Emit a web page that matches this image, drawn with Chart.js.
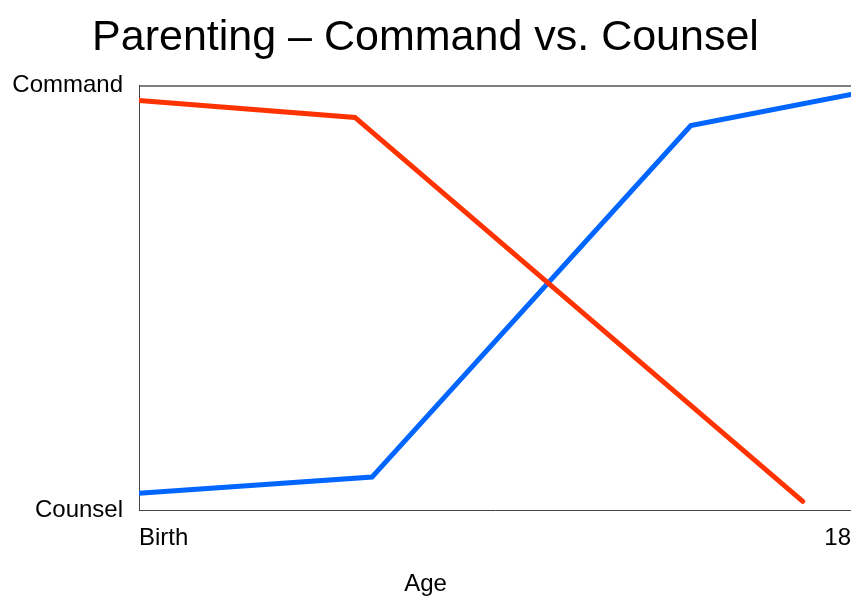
<!DOCTYPE html>
<html>
<head>
<meta charset="utf-8">
<script src="https://cdn.jsdelivr.net/npm/chart.js@4/dist/chart.umd.min.js"></script>
<style>
  html, body { margin: 0; padding: 0; background: #ffffff; overflow: hidden; }
  #wrap { width: 851px; height: 600px; }
</style>
</head>
<body>
<div id="wrap"><canvas id="parentChart"></canvas></div>
<script>
// =====================================
// DATA (age in years, level 0 = Counsel, 100 = Command)
// =====================================

const commandAges = [0, 5.46, 16.78];
const commandLevels = [96.5, 92.5, 2.1];

const counselAges = [0, 5.89, 13.95, 18];
const counselLevels = [4.0, 7.8, 90.6, 97.9];

const xTickValues = [0, 18];
const xTickLabels = ["Birth", "18"];

const yTickValues = [0, 100];
const yTickLabels = ["Counsel", "Command"];

const FONT = "'Liberation Sans', Arial, Helvetica, sans-serif";

function toPoints(xs, ys) {
    return xs.map((x, i) => ({ x: x, y: ys[i] }));
}

// =====================================
// CHART
// =====================================

const ctx = document.getElementById("parentChart").getContext("2d");

new Chart(ctx, {

    type: "line",

    data: {
        datasets: [
            {
                label: "Command",
                data: toPoints(commandAges, commandLevels),
                borderColor: "#FF3300",
                borderWidth: 5,
                borderCapStyle: "round",
                borderJoinStyle: "miter",
                pointRadius: 0,
                tension: 0,
                fill: false
            },
            {
                label: "Counsel",
                data: toPoints(counselAges, counselLevels),
                borderColor: "#0066FF",
                borderWidth: 5,
                borderCapStyle: "round",
                borderJoinStyle: "miter",
                pointRadius: 0,
                tension: 0,
                fill: false
            }
        ]
    },

    options: {
        responsive: true,
        maintainAspectRatio: false,
        animation: false,
        layout: { padding: 0 },
        plugins: {
            legend: { display: false },
            tooltip: { enabled: false },
            title: {
                display: true,
                text: "Parenting \u2013 Command vs. Counsel",
                color: "#000000",
                font: { family: FONT, size: 43, weight: "normal" },
                padding: { top: 12, bottom: 22 }
            },
            // axis name "Age" sits under the whole chart, not under the plot
            subtitle: {
                display: true,
                position: "bottom",
                text: "Age",
                color: "#000000",
                font: { family: FONT, size: 24, weight: "normal" },
                padding: { top: 0, bottom: 1 }
            }
        },
        scales: {
            x: {
                type: "linear",
                min: 0,
                max: 18,
                afterBuildTicks: (scale) => {
                    scale.ticks = xTickValues.map(v => ({ value: v }));
                },
                afterFit: (scale) => {
                    scale.height = 60;
                    scale.paddingLeft = 0;
                    scale.paddingRight = 0;
                },
                ticks: {
                    align: "inner",
                    maxRotation: 0,
                    padding: 14,
                    color: "#000000",
                    font: { family: FONT, size: 24 },
                    callback: (value) => {
                        const i = xTickValues.indexOf(value);
                        return i >= 0 ? xTickLabels[i] : "";
                    }
                },
                grid: { display: false, drawTicks: false },
                border: { display: true, color: "#444444", width: 1 }
            },
            y: {
                min: 0,
                max: 100,
                afterBuildTicks: (scale) => {
                    scale.ticks = yTickValues.map(v => ({ value: v }));
                },
                afterFit: (scale) => { scale.width = 139; },
                ticks: {
                    padding: 16,
                    color: "#000000",
                    font: { family: FONT, size: 24 },
                    callback: (value) => {
                        const i = yTickValues.indexOf(value);
                        return i >= 0 ? yTickLabels[i] : "";
                    }
                },
                grid: {
                    drawTicks: false,
                    lineWidth: 2,
                    color: (c) => (c.tick && c.tick.value === 100) ? "#808080" : "rgba(0,0,0,0)"
                },
                border: { display: true, color: "#444444", width: 1 }
            }
        }
    }

});
</script>
</body>
</html>
